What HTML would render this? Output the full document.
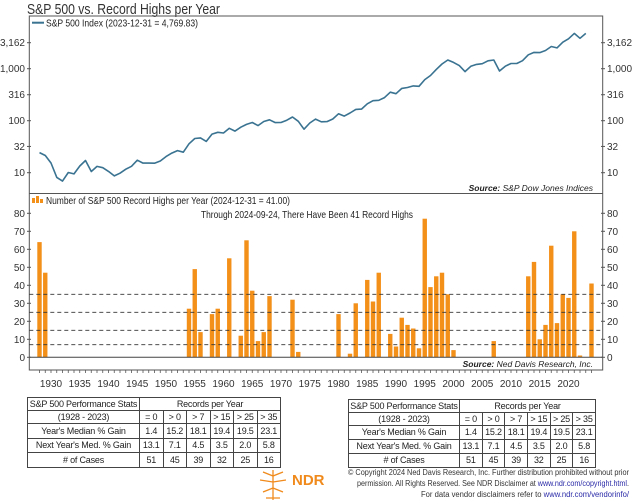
<!DOCTYPE html>
<html><head><meta charset="utf-8">
<style>
body{margin:0;background:#fff;width:640px;height:504px;overflow:hidden;font-family:"Liberation Sans",sans-serif;color:#222}
svg{position:absolute;left:0;top:0}
table{position:absolute;border-collapse:collapse;table-layout:fixed;font-size:9px;color:#222;letter-spacing:-0.2px}
td{border:1px solid #444;text-align:center;padding:0;height:12px;line-height:11px;white-space:nowrap;overflow:hidden}
.ndr{position:absolute;left:292px;top:472px;font-weight:bold;font-size:15px;color:#f08a1c}
</style></head>
<body>
<svg id="chart" width="640" height="504">
<text x="27" y="14" font-size="15" fill="#333" textLength="193" lengthAdjust="spacingAndGlyphs">S&amp;P 500 vs. Record Highs per Year</text>
<rect x="29.3" y="16" width="573.4" height="354" fill="none" stroke="#555" stroke-width="1"/>
<line x1="29.3" y1="193.5" x2="602.7" y2="193.5" stroke="#555"/>
<line x1="32" y1="22.7" x2="44" y2="22.7" stroke="#3a7391" stroke-width="2"/>
<text x="46" y="26.5" font-size="10.5" fill="#222" textLength="152" lengthAdjust="spacingAndGlyphs">S&amp;P 500 Index (2023-12-31 = 4,769.83)</text>
<text x="593" y="191" font-size="8.5" fill="#222" text-anchor="end" font-style="italic"><tspan font-weight="bold">Source:</tspan>   S&amp;P Dow Jones Indices</text>
<rect x="32" y="198" width="3" height="5" fill="#f39019"/>
<rect x="36" y="196" width="3" height="7" fill="#f39019"/>
<rect x="40" y="199" width="3" height="4" fill="#f39019"/>
<text x="46" y="204" font-size="10.5" fill="#222" textLength="244" lengthAdjust="spacingAndGlyphs">Number of S&amp;P 500 Record Highs per Year (2024-12-31 = 41.00)</text>
<text x="201" y="218" font-size="10.5" fill="#222" textLength="212" lengthAdjust="spacingAndGlyphs">Through 2024-09-24, There Have Been 41 Record Highs</text>
<text x="593" y="367" font-size="8.5" fill="#222" text-anchor="end" font-style="italic"><tspan font-weight="bold">Source:</tspan>   Ned Davis Research, Inc.</text>
<g id="g-line"></g><g id="g-bars"></g><g id="g-axes"></g>
<g font-size="8" fill="#333">
<text x="348" y="475" textLength="281" lengthAdjust="spacingAndGlyphs">© Copyright 2024 Ned Davis Research, Inc. Further distribution prohibited without prior</text>
<text x="357" y="486" textLength="272" lengthAdjust="spacingAndGlyphs">permission. All Rights Reserved. See NDR Disclaimer at  <tspan fill="#2a2aa8">www.ndr.com/copyright.html</tspan>.</text>
<text x="421" y="497" textLength="208" lengthAdjust="spacingAndGlyphs">For data vendor disclaimers refer to <tspan fill="#2a2aa8">www.ndr.com/vendorinfo/</tspan></text>
</g>
</svg>

<table style="left:27px;top:397px;width:254px">
<colgroup><col style="width:112px"><col><col><col><col><col><col></colgroup>
<tr><td>S&amp;P 500 Performance Stats</td><td colspan="6">Records per Year</td></tr>
<tr><td>(1928 - 2023)</td><td>= 0</td><td>&gt; 0</td><td>&gt; 7</td><td>&gt; 15</td><td>&gt; 25</td><td>&gt; 35</td></tr>
<tr><td style="height:14px">Year's Median % Gain</td><td>1.4</td><td>15.2</td><td>18.1</td><td>19.4</td><td>19.5</td><td>23.1</td></tr>
<tr><td style="height:13px">Next Year's Med. % Gain</td><td>13.1</td><td>7.1</td><td>4.5</td><td>3.5</td><td>2.0</td><td>5.8</td></tr>
<tr><td style="height:14px"># of Cases</td><td>51</td><td>45</td><td>39</td><td>32</td><td>25</td><td>16</td></tr>
</table>
<table style="left:348px;top:399px;width:248px">
<colgroup><col style="width:111px"><col><col><col><col><col><col></colgroup>
<tr><td>S&amp;P 500 Performance Stats</td><td colspan="6">Records per Year</td></tr>
<tr><td>(1928 - 2023)</td><td>= 0</td><td>&gt; 0</td><td>&gt; 7</td><td>&gt; 15</td><td>&gt; 25</td><td>&gt; 35</td></tr>
<tr><td style="height:13px">Year's Median % Gain</td><td>1.4</td><td>15.2</td><td>18.1</td><td>19.4</td><td>19.5</td><td>23.1</td></tr>
<tr><td style="height:13px">Next Year's Med. % Gain</td><td>13.1</td><td>7.1</td><td>4.5</td><td>3.5</td><td>2.0</td><td>5.8</td></tr>
<tr><td style="height:13px"># of Cases</td><td>51</td><td>45</td><td>39</td><td>32</td><td>25</td><td>16</td></tr>
</table>

<svg width="32" height="34" style="left:257px;top:468px">
<g stroke="#f08a1c" stroke-width="1.3" fill="none"><path d="M16 2 L16 32 M16 8 L6 4 M16 8 L26 4 M16 14 L3 12 M16 14 L29 12 M16 20 L6 24 M16 20 L26 24 M9 30 L23 30"/></g></svg>
<div class="ndr">NDR</div>

<script>
const spYears = [1928,1929,1930,1931,1932,1933,1934,1935,1936,1937,1938,1939,1940,1941,1942,1943,1944,1945,1946,1947,1948,1949,1950,1951,1952,1953,1954,1955,1956,1957,1958,1959,1960,1961,1962,1963,1964,1965,1966,1967,1968,1969,1970,1971,1972,1973,1974,1975,1976,1977,1978,1979,1980,1981,1982,1983,1984,1985,1986,1987,1988,1989,1990,1991,1992,1993,1994,1995,1996,1997,1998,1999,2000,2001,2002,2003,2004,2005,2006,2007,2008,2009,2010,2011,2012,2013,2014,2015,2016,2017,2018,2019,2020,2021,2022,2023];
const spValues = [24.35,21.45,15.34,8.12,6.89,10.10,9.50,13.43,17.18,10.55,13.21,12.49,10.58,8.69,9.77,11.67,13.28,17.36,15.30,15.30,15.20,16.76,20.41,23.77,26.57,24.81,35.98,45.48,46.67,39.99,55.21,59.89,58.11,71.55,63.10,75.02,84.75,92.43,80.33,96.47,103.86,92.06,92.15,102.09,118.05,97.55,68.56,90.19,107.46,95.10,96.11,107.94,135.76,122.55,140.64,164.93,167.24,211.28,242.17,247.08,277.72,353.40,330.22,417.09,435.71,466.45,459.27,615.93,740.74,970.43,1229.23,1469.25,1320.28,1148.08,879.82,1111.92,1211.92,1248.29,1418.30,1468.36,903.25,1115.10,1257.64,1257.60,1426.19,1848.36,2058.90,2043.94,2238.83,2673.61,2506.85,3230.78,3756.07,4766.18,3839.50,4769.83];
const recYears = [1928,1929,1954,1955,1956,1958,1959,1961,1963,1964,1965,1966,1967,1968,1972,1973,1980,1982,1983,1985,1986,1987,1989,1990,1991,1992,1993,1994,1995,1996,1997,1998,1999,2000,2007,2013,2014,2015,2016,2017,2018,2019,2020,2021,2022,2024];
const recCounts = [64,47,27,49,14,24,27,55,12,65,37,9,14,34,32,3,24,2,30,43,31,47,13,6,22,18,16,5,77,39,45,47,35,4,9,45,53,10,18,62,19,35,33,70,1,41];
const logTicks = [10,32,100,316,1000,3162];
const logTickLabels = ["10","32","100","316","1,000","3,162"];
const recTicks = [0,10,20,30,40,50,60,70,80];
const refLines = [7,15,25,35];
const yearLabels = [1930,1935,1940,1945,1950,1955,1960,1965,1970,1975,1980,1985,1990,1995,2000,2005,2010,2015,2020];

const NS="http://www.w3.org/2000/svg";
const xS = y => 51 + (y-1930)*5.75;
const yLog = v => 172.7 - 52*(Math.log10(v)-1);
const yRec = v => 357.3 - v*1.8;
function mk(tag, attrs, parent){const e=document.createElementNS(NS,tag);for(const k in attrs)e.setAttribute(k,attrs[k]);parent.appendChild(e);return e;}
const gL=document.getElementById('g-line'), gB=document.getElementById('g-bars'), gA=document.getElementById('g-axes');

let d=spYears.map((y,i)=>(i?'L':'M')+xS(y).toFixed(1)+' '+yLog(spValues[i]).toFixed(1)).join(' ');
const line=mk('path',{d:d,fill:'none',stroke:'#3a7391','stroke-width':1.6,'stroke-linejoin':'round'},gL);



refLines.forEach(v=>{
  const l=mk('line',{x1:29.3,x2:602.7,y1:yRec(v),y2:yRec(v),stroke:'#333','stroke-width':0.9,'stroke-dasharray':'4 3'},gA);
  
  
});
recYears.forEach((y,i)=>{
  const r=mk('rect',{x:xS(y)-2.2,y:yRec(recCounts[i]),width:4.4,height:recCounts[i]*1.8,fill:'#f39019'},gB);
  
  
});
const z=mk('line',{x1:29.3,x2:602.7,y1:357.3,y2:357.3,stroke:'#444','stroke-width':1},gA);



logTicks.forEach((v,i)=>{
  const y=yLog(v);
  mk('line',{x1:27,x2:31,y1:y,y2:y,stroke:'#555'},gA);
  mk('line',{x1:601,x2:605,y1:y,y2:y,stroke:'#555'},gA);
  const t=mk('text',{x:25,y:y+3.5,'font-size':10,'text-anchor':'end',fill:'#333'},gA);t.textContent=logTickLabels[i];
  
  
  const t2=mk('text',{x:607,y:y+3.5,'font-size':10,fill:'#333'},gA);t2.textContent=logTickLabels[i];
  
  
});
recTicks.forEach(v=>{
  const y=yRec(v);
  mk('line',{x1:27,x2:31,y1:y,y2:y,stroke:'#555'},gA);
  mk('line',{x1:601,x2:605,y1:y,y2:y,stroke:'#555'},gA);
  const t=mk('text',{x:25,y:y+3.5,'font-size':10,'text-anchor':'end',fill:'#333'},gA);t.textContent=v;
  
  
  const t2=mk('text',{x:607,y:y+3.5,'font-size':10,fill:'#333'},gA);t2.textContent=v;
  
  
});
for(let y=1928;y<=2024;y++){mk('line',{x1:xS(y),x2:xS(y),y1:370,y2:373,stroke:'#555','stroke-width':0.8},gA);}
yearLabels.forEach(y=>{
  const t=mk('text',{x:xS(y),y:387,'font-size':10,'text-anchor':'middle',fill:'#333'},gA);t.textContent=y;
  
  
});
</script>
</body></html>
